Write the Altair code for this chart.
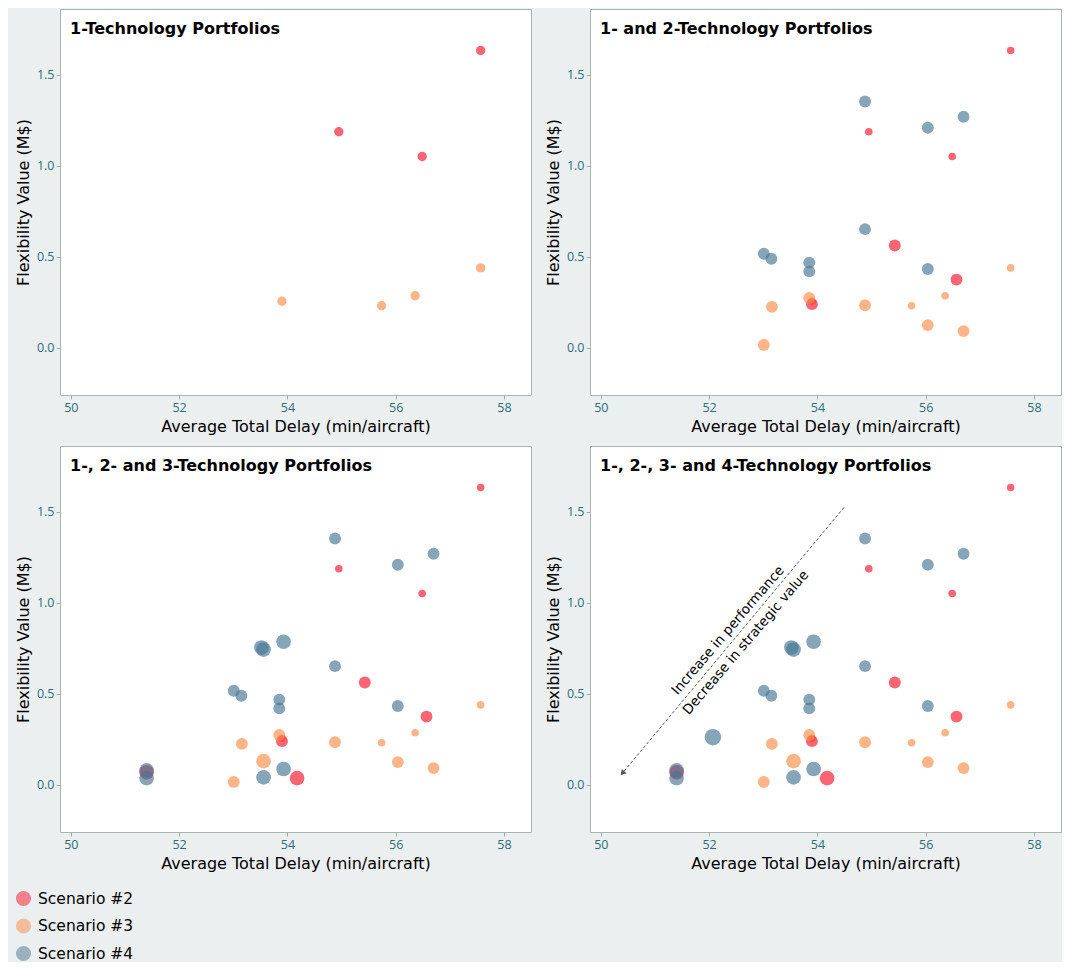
import altair as alt
import pandas as pd

scenarios = ["Scenario #2", "Scenario #3", "Scenario #4"]
colors = ["#f81128", "#fc8c47", "#477594"]

x_ticks = [50, 52, 54, 56, 58]
y_ticks = [0.0, 0.5, 1.0, 1.5]

titles = [
    "1-Technology Portfolios",
    "1- and 2-Technology Portfolios",
    "1-, 2- and 3-Technology Portfolios",
    "1-, 2-, 3- and 4-Technology Portfolios",
]

# 1-technology portfolios
t1_s2_x = [57.57, 54.95, 56.49]
t1_s2_y = [1.632, 1.186, 1.050]
t1_s3_x = [57.57, 56.36, 55.74, 53.90]
t1_s3_y = [0.438, 0.285, 0.230, 0.255]
# 2-technology portfolios
t2_s2_x = [55.43, 56.57, 53.90]
t2_s2_y = [0.561, 0.374, 0.239]
t2_s3_x = [53.85, 54.88, 53.16, 53.01, 56.04, 56.70]
t2_s3_y = [0.273, 0.233, 0.224, 0.015, 0.124, 0.091]
t2_s4_x = [54.88, 56.70, 56.04, 54.88, 53.01, 53.15, 53.85, 53.85, 56.04]
t2_s4_y = [1.352, 1.268, 1.208, 0.651, 0.516, 0.488, 0.467, 0.419, 0.432]
# 3-technology portfolios
t3_s2_x = [54.18, 51.40]
t3_s2_y = [0.036, 0.068]
t3_s3_x = [53.56]
t3_s3_y = [0.129]
t3_s4_x = [53.52, 53.56, 53.93, 53.56, 53.93, 51.40, 51.40]
t3_s4_y = [0.753, 0.742, 0.785, 0.040, 0.086, 0.078, 0.036]
# 4-technology portfolios
t4_s4_x = [52.07]
t4_s4_y = [0.261]

# annotation (panel 4)
arrow_start = [54.49, 1.522]
arrow_end = [50.41, 0.067]
annot_text = ["Increase in performance", "Decrease in strategic value"]
annot_x = [52.35, 52.68]
annot_y = [0.847, 0.780]

groups = [
    (1, "Scenario #2", t1_s2_x, t1_s2_y),
    (1, "Scenario #3", t1_s3_x, t1_s3_y),
    (2, "Scenario #2", t2_s2_x, t2_s2_y),
    (2, "Scenario #3", t2_s3_x, t2_s3_y),
    (2, "Scenario #4", t2_s4_x, t2_s4_y),
    (3, "Scenario #2", t3_s2_x, t3_s2_y),
    (3, "Scenario #3", t3_s3_x, t3_s3_y),
    (3, "Scenario #4", t3_s4_x, t3_s4_y),
    (4, "Scenario #4", t4_s4_x, t4_s4_y),
]
rows = []
for n, s, xs, ys in groups:
    for xv, yv in zip(xs, ys):
        rows.append({"delay": xv, "value": yv, "scenario": s, "ntech": n})
df = pd.DataFrame(rows)

XT = "Average Total Delay (min/aircraft)"
YT = "Flexibility Value (M$)"
xscale = alt.Scale(domain=[49.8, 58.5], nice=False, zero=False)
yscale = alt.Scale(domain=[-0.26, 1.86], nice=False, zero=False)

W, H = 471, 386


def panel(k):
    d = df[df.ntech <= k]
    enc = dict(
        x=alt.X("delay:Q", scale=xscale, axis=alt.Axis(values=x_ticks, format="d", title=XT)),
        y=alt.Y("value:Q", scale=yscale, axis=alt.Axis(values=y_ticks, format=".1f", title=YT)),
        color=alt.Color(
            "scenario:N",
            scale=alt.Scale(domain=scenarios, range=colors),
            legend=alt.Legend(title=None, orient="none", legendX=-45, legendY=881) if k == 1 else None,
        ),
    )
    if k == 1:
        pts = alt.Chart(d).mark_circle(opacity=0.65, size=88).encode(**enc)
    else:
        enc["size"] = alt.Size(
            "ntech:Q",
            scale=alt.Scale(type="threshold", domain=[1.5, 2.5, 3.5], range=[58, 141, 216, 272]),
            legend=None,
        )
        pts = alt.Chart(d).mark_circle(opacity=0.65).encode(**enc)
    ttl = alt.Chart(pd.DataFrame({"t": [titles[k - 1]]})).mark_text(
        align="left", baseline="middle", fontWeight="bold", fontSize=16, color="black"
    ).encode(x=alt.value(10), y=alt.value(20), text="t:N")
    layers = [pts, ttl]
    if k == 4:
        adf = pd.DataFrame({"x1": [arrow_start[0]], "y1": [arrow_start[1]],
                            "x2": [arrow_end[0]], "y2": [arrow_end[1]]})
        rule = alt.Chart(adf).mark_rule(strokeDash=[3, 2], color="#555555", strokeWidth=1).encode(
            x="x1:Q", y="y1:Q", x2="x2:Q", y2="y2:Q")
        head = alt.Chart(adf).mark_point(shape="triangle", filled=True, size=40, angle=220.6,
                                         color="#555555", opacity=1).encode(x="x2:Q", y="y2:Q")
        tdf = pd.DataFrame({"t": annot_text, "x": annot_x, "y": annot_y})
        txt = alt.Chart(tdf).mark_text(angle=310.6, fontSize=13.5, color="black").encode(
            x="x:Q", y="y:Q", text="t:N")
        layers = [rule, head, pts, txt, ttl]
    return alt.layer(*layers).properties(width=W, height=H)


top = alt.hconcat(panel(1), panel(2), spacing=12)
bottom = alt.hconcat(panel(3), panel(4), spacing=12)
chart = alt.vconcat(top, bottom, spacing=10).resolve_scale(
    color="shared", size="independent"
).properties(
    padding={"left": 6, "top": 0, "right": 0, "bottom": 0}
).configure(
    background="#ebefef", font="DejaVu Sans"
).configure_view(
    stroke="#a7b5b5", fill="white", strokeWidth=1
).configure_axis(
    grid=False, domain=False, tickColor="#a0adad", tickSize=4,
    labelColor="#2c6e78", labelFont="Open Sans", labelFontSize=12.5, titleFontSize=16,
    titleColor="black", titleFontWeight="normal", labelPadding=2, titlePadding=5
).configure_legend(
    labelFontSize=15.5, labelColor="black", symbolSize=230, symbolType="circle",
    symbolOpacity=0.5, symbolStrokeWidth=1, rowPadding=10.5, labelOffset=6
)

chart.save("out.html", embed_options={"renderer": "svg", "actions": False})
